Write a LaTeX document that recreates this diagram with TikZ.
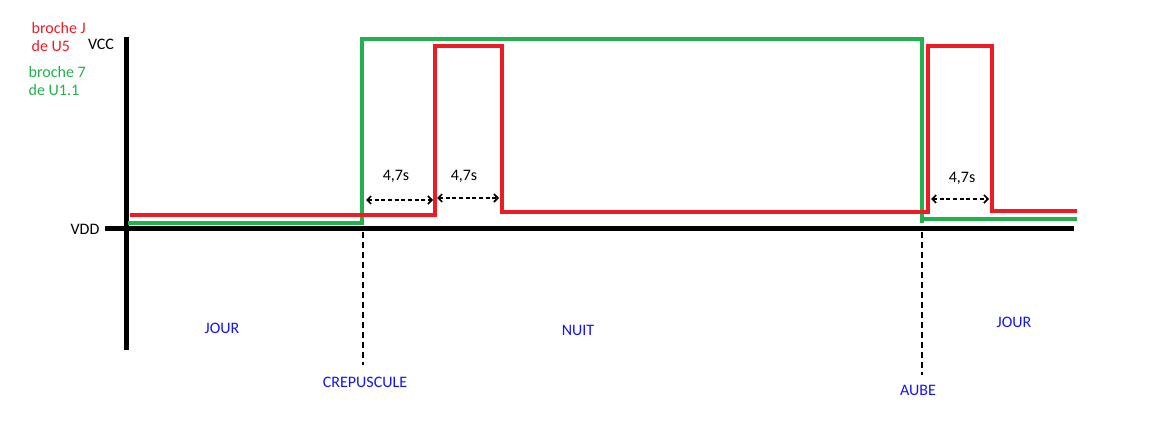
\documentclass[tikz,border=0pt]{standalone}
\usepackage{fontspec}
\setmainfont{Carlito}
\usetikzlibrary{arrows.meta}
\definecolor{sigred}{RGB}{237,28,36}
\definecolor{siggreen}{RGB}{34,177,76}
\definecolor{zoneblue}{RGB}{20,20,240}

\begin{document}
\begin{tikzpicture}[x=0.75pt,y=0.75pt,yscale=-1,xscale=1,
  axis/.style={line width=3.75pt},
  sigJ/.style={draw=sigred,line width=3pt},
  sigseven/.style={draw=siggreen,line width=3pt},
  marker/.style={dash pattern={on 4.5pt off 3pt},line width=1.5pt},
  delay/.style={dash pattern={on 3pt off 2pt},line width=1.2pt,
    {Straight Barb[length=3pt,width=6pt]}-{Straight Barb[length=3pt,width=6pt]}},
  lbl/.style={font=\fontsize{12}{13}\selectfont},
  zone/.style={lbl,text=zoneblue}]
\useasboundingbox (0,0) rectangle (1152,423);

%Axes
\coordinate (ytop) at (126,37);
\coordinate (ybot) at (126,350);
\coordinate (xleft) at (105,229);
\coordinate (xright) at (1074,229);
\draw [axis] (ytop) -- (ybot);
\draw [axis] (xleft) -- (xright);

% Text Node
\node [lbl] (vcc) at (101,44) {VCC};
% Text Node
\node [lbl] (vdd) at (85,229) {VDD};

%Legend
\node [lbl,text=sigred,align=left,anchor=north west] (legJ) at (27,18) {broche J\\de U5};
\node [lbl,text=siggreen,align=left,anchor=north west] (legseven) at (24,62) {broche 7\\de U1.1};

%Signal broche 7
\draw [sigseven] (128,223) -- (362,223) -- (362,39) -- (922,39) -- (922,223);
\draw [sigseven] (922,219) -- (1077,219);
%Signal broche J
\draw [sigJ] (130,215) -- (435,215) -- (435,46) -- (502,46) -- (502,212) -- (928,212) -- (928,46) -- (992,46) -- (992,211) -- (1077,211);

%Markers
\coordinate (crep) at (363,232);
\coordinate (crepend) at (363,365);
\coordinate (aube) at (922,232);
\coordinate (aubeend) at (922,375);
\draw [marker] (crep) -- (crepend);
\draw [marker] (aube) -- (aubeend);

%Delays
\coordinate (d1a) at (366,200);
\coordinate (d1b) at (433,200);
\coordinate (d2a) at (437,198);
\coordinate (d2b) at (499,198);
\coordinate (d3a) at (931,199);
\coordinate (d3b) at (989,199);
\draw [delay] (d1a) -- (d1b);
\draw [delay] (d2a) -- (d2b);
\draw [delay] (d3a) -- (d3b);
\node [lbl] (t1) at (396,176) {4,7s};
\node [lbl] (t2) at (464,176) {4,7s};
\node [lbl] (t3) at (962,178) {4,7s};

% Text Node
\node [zone] (jour1) at (222,328) {JOUR};
\node [zone] (nuit) at (578,330) {NUIT};
\node [zone] (jour2) at (1014,322) {JOUR};
\node [zone] (crepl) at (365,382) {CREPUSCULE};
\node [zone] (aubel) at (918,390) {AUBE};

\end{tikzpicture}
\end{document}
